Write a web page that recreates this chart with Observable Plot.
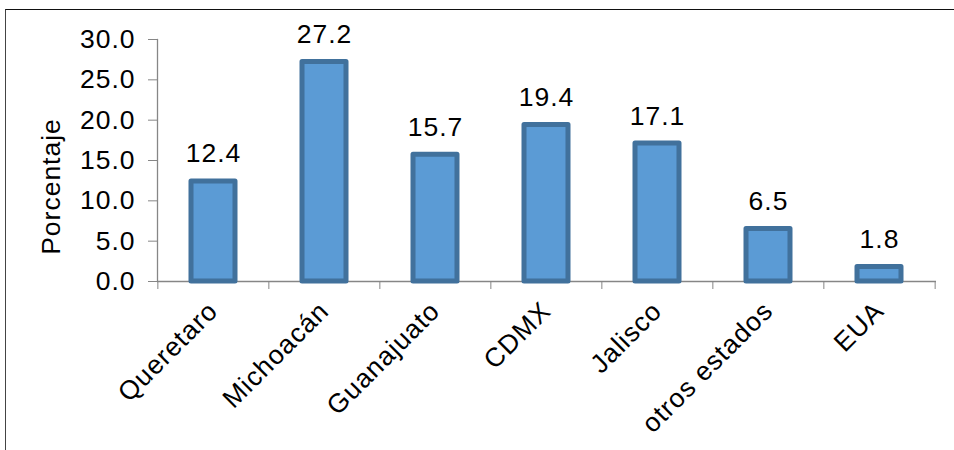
<!DOCTYPE html>
<html>
<head>
<meta charset="utf-8">
<script src="https://cdn.jsdelivr.net/npm/d3@7"></script>
<script src="https://cdn.jsdelivr.net/npm/@observablehq/plot@0.6"></script>
<style>
  html, body { margin: 0; padding: 0; background: #fff; }
  #wrap { position: relative; width: 954px; height: 450px; overflow: hidden; }
  #wrap svg text { letter-spacing: 1px; }
  #border { position: absolute; left: 5px; top: 9px; width: 2000px; height: 1000px;
            border-top: 1.5px solid #111; border-left: 1.5px solid #444; pointer-events: none; }
</style>
</head>
<body>
<div id="wrap"></div>
<script>
const categories = ["Queretaro", "Michoacán", "Guanajuato", "CDMX", "Jalisco", "otros estados", "EUA"];
const values = [12.4, 27.2, 15.7, 19.4, 17.1, 6.5, 1.8];
const yTicks = [0, 5, 10, 15, 20, 25, 30];
const yLabel = "Porcentaje";

const data = categories.map((c, i) => ({cat: c, value: values[i]}));

const W = 954, H = 450;
const mL = 157, mR = 18, mT = 39, mB = 169;
const step = (W - mL - mR) / categories.length;
const font = "Liberation Sans, Arial, sans-serif";
const fs = 26.5;
const grey = "#868686";

const chart = Plot.plot({
  width: W,
  height: H,
  marginLeft: mL,
  marginRight: mR,
  marginTop: mT,
  marginBottom: mB,
  style: {fontFamily: font, fontSize: fs + "px", color: "#000", background: "transparent"},
  x: {domain: categories, paddingInner: 0.6, paddingOuter: 0.3, align: 0.5},
  y: {domain: [0, 30]},
  marks: [
    Plot.frame({anchor: "left", stroke: grey, strokeWidth: 1.3}),
    Plot.ruleY([0], {stroke: grey, strokeWidth: 1.3}),
    Plot.axisY({ticks: yTicks, tickFormat: d3.format(".1f"), tickSize: 9, tickPadding: 13,
                stroke: grey, fill: "#000", fontSize: fs, label: null}),
    Plot.axisX({tickSize: 8, tickFormat: () => "", dx: -step / 2, stroke: grey, label: null}),
    Plot.axisX({ticks: [categories[categories.length - 1]], tickSize: 8, tickFormat: () => "",
                dx: step / 2, stroke: grey, label: null}),
    Plot.axisX({tickSize: 0, tickRotate: -45, tickPadding: 25, dx: 0,
                textAnchor: "end", lineAnchor: "middle", fill: "#000",
                fontSize: fs, label: null}),
    Plot.barY(data, {x: "cat", y: "value", fill: "#5B9BD5", stroke: "#41719C",
                     strokeWidth: 5, strokeLinejoin: "round"}),
    Plot.text(data, {x: "cat", y: "value", text: d => d3.format(".1f")(d.value),
                     lineAnchor: "bottom", dy: -19, fontSize: fs, fill: "#000"}),
    Plot.text([yLabel], {frameAnchor: "left", text: d => d, rotate: -90, dx: -106, dy: 26,
                         textAnchor: "middle", lineAnchor: "middle", fontSize: fs, fill: "#000"})
  ]
});

const wrap = document.getElementById("wrap");
wrap.appendChild(chart);
const border = document.createElement("div");
border.id = "border";
wrap.appendChild(border);
</script>
</body>
</html>
